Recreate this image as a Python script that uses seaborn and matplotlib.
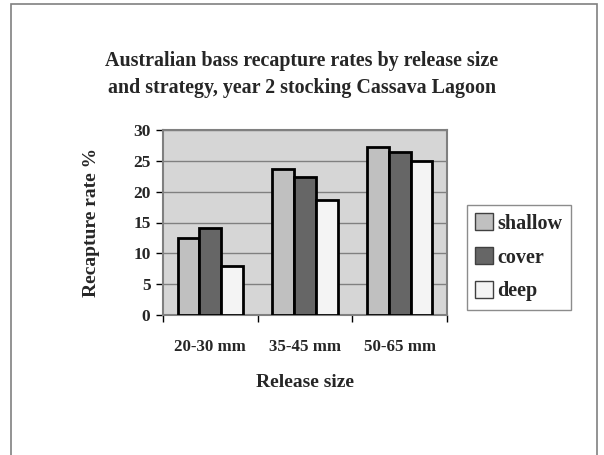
import matplotlib
matplotlib.use("Agg")
import matplotlib.pyplot as plt
import seaborn as sns
import pandas as pd
import numpy as np
from matplotlib.patches import Rectangle

sizes = ["20-30 mm", "35-45 mm", "50-65 mm"]
strategies = ["shallow", "cover", "deep"]
shallow = [12.5, 23.6, 27.3]
cover = [14.1, 22.4, 26.4]
deep = [7.9, 18.7, 24.9]

rows = []
for i, s in enumerate(sizes):
    for strat, vals in zip(strategies, [shallow, cover, deep]):
        rows.append({"size": s, "strategy": strat, "rate": vals[i]})
df = pd.DataFrame(rows)

sns.set_style("white")
plt.rcParams['font.family'] = ['Liberation Serif', 'DejaVu Serif']
plt.rcParams['font.weight'] = 'bold'

fig = plt.figure(figsize=(6.04, 4.55), dpi=100)
ax = fig.add_axes([163/604, 1-315/455, (447-163)/604, (315-130)/455])
ax.set_facecolor("#d6d6d6")

palette = {"shallow": "#c0c0c0", "cover": "#666666", "deep": "#f4f4f4"}
sns.barplot(data=df, x="size", y="rate", hue="strategy", order=sizes,
            hue_order=strategies, palette=palette, edgecolor="black",
            linewidth=2, width=0.69, gap=0, ax=ax, saturation=1, zorder=3)

ax.set_ylim(0, 30)
ax.set_xlim(-0.5, 2.5)
ax.set_yticks([0, 5, 10, 15, 20, 25, 30])
ax.set_yticklabels([str(v) for v in [0, 5, 10, 15, 20, 25, 30]], fontsize=12.5, fontweight='bold')
ax.yaxis.grid(True, color="#808080", linewidth=1, zorder=0)
ax.set_axisbelow(True)

ax.set_xticks([-0.5, 0.5, 1.5, 2.5])
ax.set_xticklabels([])
ax.set_xticks([0, 1, 2], minor=True)
ax.set_xticklabels(sizes, minor=True, fontsize=12.2, fontweight='bold')
ax.tick_params(axis='x', which='minor', length=0, pad=17)
ax.tick_params(axis='x', which='major', length=5, width=1, color="black", direction='out', bottom=True)
ax.tick_params(axis='y', length=5, width=1, color="black", direction='out', left=True, pad=4)

for side in ["top", "right", "left", "bottom"]:
    ax.spines[side].set_color("#808080")
    ax.spines[side].set_linewidth(1.5)

ax.set_xlabel("Release size", fontsize=14, fontweight='bold', labelpad=14)
ax.set_ylabel("Recapture rate %", fontsize=14, fontweight='bold', labelpad=23.5)

fig.text(0.5, 1-61/455, "Australian bass recapture rates by release size",
         ha='center', va='center', fontsize=14.4, fontweight='bold')
fig.text(0.5, 1-88/455, "and strategy, year 2 stocking Cassava Lagoon",
         ha='center', va='center', fontsize=14.4, fontweight='bold')

leg = ax.legend(loc='upper left', bbox_to_anchor=((467-163)/(447-163), (315-205)/(315-130)),
                bbox_transform=ax.transAxes,
                frameon=True, fancybox=False, edgecolor="#707070",
                prop={'size': 14.5, 'weight': 'bold'}, handlelength=0.88, handleheight=0.88,
                handletextpad=0.2, labelspacing=0.68, borderpad=0.42, borderaxespad=0)
leg.get_frame().set_linewidth(1)
for h in leg.legend_handles:
    h.set_linewidth(1)
    h.set_edgecolor("#404040")

fig.patches.append(Rectangle((11/604, -0.1), (597-11)/604, 1.1 - 4/455,
                             transform=fig.transFigure, fill=False,
                             edgecolor="#808080", linewidth=1.2))

fig.savefig("out.png", dpi=100)
